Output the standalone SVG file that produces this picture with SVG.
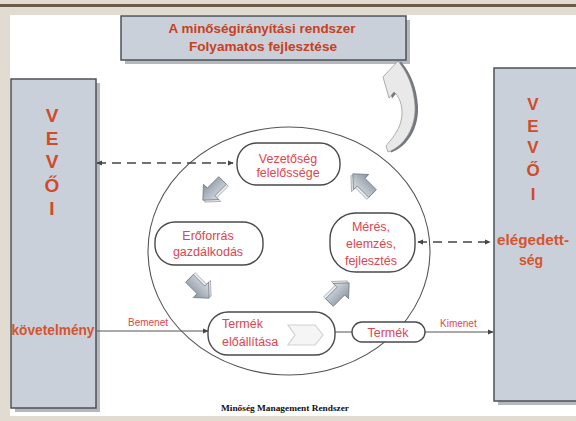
<svg xmlns="http://www.w3.org/2000/svg" width="576" height="421" viewBox="0 0 576 421">
<style>
.sh{fill:#b5b9be}
.bigbox{fill:#c9d0d9;stroke:#4d5258;stroke-width:1.5}
.node{fill:#ffffff;stroke:#4a4a4a;stroke-width:1.4}
.ntxt{font-family:"Liberation Sans",Arial,sans-serif;font-size:12.5px;fill:#e0444e;text-anchor:middle}
.vv{font-family:"Liberation Sans",Arial,sans-serif;font-size:19px;font-weight:bold;fill:#d24a2a;text-anchor:middle}
.side{font-family:"Liberation Sans",Arial,sans-serif;font-size:14px;font-weight:bold;fill:#d5542e;text-anchor:middle}
.ttl{font-family:"Liberation Sans",Arial,sans-serif;font-size:12.5px;font-weight:bold;fill:#c8401e;text-anchor:middle}
.lbl{font-family:"Liberation Sans",Arial,sans-serif;font-size:10px;fill:#e04848}
.line{stroke:#555;stroke-width:1;fill:none}
.dash{stroke:#444;stroke-width:1.6;fill:none;stroke-dasharray:9 6}
</style>
<defs>
<marker id="ah" viewBox="0 0 8 8" refX="7" refY="4" markerWidth="6" markerHeight="6" orient="auto-start-reverse" markerUnits="userSpaceOnUse">
<path d="M0,0.5 L8,4 L0,7.5 Z" fill="#444"/>
</marker>
<linearGradient id="ag" x1="0" y1="0" x2="0" y2="1">
<stop offset="0" stop-color="#d8dee5"/>
<stop offset="1" stop-color="#8a949f"/>
</linearGradient>
<g id="blk">
<path d="M-15,-9 L3,-9 L3,-15 L16,-3 L3,9 L3,3 L-15,3 Z" fill="#e9ecef" stroke="#8a8f95" stroke-width="0.7"/>
<path d="M-15,-6 L3,-6 L3,-12 L16,0 L3,12 L3,6 L-15,6 Z" fill="url(#ag)" stroke="#6c737b" stroke-width="0.8"/>
</g>
<path id="carr" d="M398,61 L383,77 L389,98 L394,92 C403,100 405,117 397,131 C393,138 389,142 386,146 L388,152 C405,146 416,127 415,106 C414,88 408,73 398,61 Z"/>
</defs>
<rect x="0" y="0" width="576" height="421" fill="#e2dbd1"/>
<rect x="0" y="4" width="576" height="3" fill="#6b5b4b"/>
<rect x="10" y="15" width="566" height="401" fill="#ffffff"/>

<g id="vevo-left">
<rect class="sh" x="15" y="83" width="85" height="329"/>
<rect class="bigbox" x="11" y="79" width="85" height="329"/>
<text class="vv" x="52" y="122">V</text>
<text class="vv" x="52" y="145">E</text>
<text class="vv" x="52" y="168">V</text>
<text class="vv" x="52" y="192">Ő</text>
<text class="vv" x="52" y="215">I</text>
<text class="side" x="53" y="335" textLength="83" lengthAdjust="spacingAndGlyphs">követelmény</text>
</g>

<g id="vevo-right">
<rect class="sh" x="498" y="72" width="90" height="333"/>
<rect class="bigbox" x="494" y="68" width="90" height="333"/>
<text class="vv" x="533" y="110" style="font-size:17px">V</text>
<text class="vv" x="533" y="132" style="font-size:17px">E</text>
<text class="vv" x="533" y="153" style="font-size:17px">V</text>
<text class="vv" x="533" y="176" style="font-size:17px">Ő</text>
<text class="vv" x="533" y="200" style="font-size:17px">I</text>
<text class="side" x="533" y="245" textLength="72" lengthAdjust="spacingAndGlyphs">elégedett-</text>
<text class="side" x="531" y="265">ség</text>
</g>

<g id="title">
<rect class="sh" x="125" y="20" width="285" height="44"/>
<rect x="121" y="16" width="285" height="44" fill="#c9d0d9" stroke="#4d5258" stroke-width="1.5"/>
<text class="ttl" x="262" y="33" textLength="187" lengthAdjust="spacingAndGlyphs">A minőségirányítási rendszer</text>
<text class="ttl" x="263" y="51" textLength="148" lengthAdjust="spacingAndGlyphs">Folyamatos fejlesztése</text>
</g>

<g id="curved-arrow">
<use href="#carr" fill="#74787e" transform="translate(3,0.5)"/>
<use href="#carr" fill="#e9e9e9" stroke="#8f8f8f" stroke-width="0.7"/>
</g>

<g id="system">
<ellipse cx="289" cy="251" rx="141" ry="124" fill="none" stroke="#555" stroke-width="1.1"/>
</g>

<g id="connectors">
<line class="dash" x1="97" y1="163" x2="233" y2="163" marker-start="url(#ah)" marker-end="url(#ah)"/>
<line class="dash" x1="418" y1="242" x2="490" y2="242" marker-start="url(#ah)" marker-end="url(#ah)"/>
<line class="line" x1="97" y1="331" x2="208" y2="331" marker-end="url(#ah)"/>
<line class="line" x1="335" y1="332" x2="352" y2="332"/>
<line class="line" x1="425" y1="332" x2="493" y2="332" marker-end="url(#ah)"/>
<text class="lbl" x="128" y="326">Bemenet</text>
<text class="lbl" x="440" y="327">Kimenet</text>
<use href="#blk" transform="translate(213,190) rotate(135) scale(0.9)"/>
<use href="#blk" transform="translate(199,288) rotate(45) scale(0.9)"/>
<use href="#blk" transform="translate(339,293) rotate(-45) scale(0.9)"/>
<use href="#blk" transform="translate(363,184) rotate(-135) scale(0.9)"/>
</g>

<g id="vezetoseg">
<rect class="node" x="237" y="143" width="103" height="42" rx="20"/>
<text class="ntxt" x="288" y="163">Vezetőség</text>
<text class="ntxt" x="288" y="177">felelőssége</text>
</g>

<g id="eroforras">
<rect class="node" x="155" y="222" width="108" height="43" rx="20"/>
<text class="ntxt" x="208" y="240">Erőforrás</text>
<text class="ntxt" x="208" y="256">gazdálkodás</text>
</g>

<g id="meres">
<rect class="node" x="330" y="213" width="85" height="59" rx="26"/>
<text class="ntxt" x="371" y="231">Mérés,</text>
<text class="ntxt" x="371" y="248">elemzés,</text>
<text class="ntxt" x="371" y="265">fejlesztés</text>
</g>

<g id="termek-eloallitasa">
<rect class="node" x="208" y="312" width="127" height="43" rx="20"/>
<text class="ntxt" x="222" y="328" style="text-anchor:start">Termék</text>
<text class="ntxt" x="222" y="346" style="text-anchor:start">előállítása</text>
<path d="M288,325 L315,325 L323,335 L315,345 L288,345 L295,335 Z" fill="#f5f5f5" stroke="#d2d2d2" stroke-width="1.2"/>
</g>

<g id="termek">
<rect class="node" x="352" y="322" width="73" height="20" rx="10"/>
<text class="ntxt" x="388" y="337">Termék</text>
</g>

<text x="285" y="411" font-family="'Liberation Serif','Times New Roman',serif" font-size="9" font-weight="bold" fill="#111" text-anchor="middle" textLength="128" lengthAdjust="spacingAndGlyphs">Minőség Management Rendszer</text>
</svg>
